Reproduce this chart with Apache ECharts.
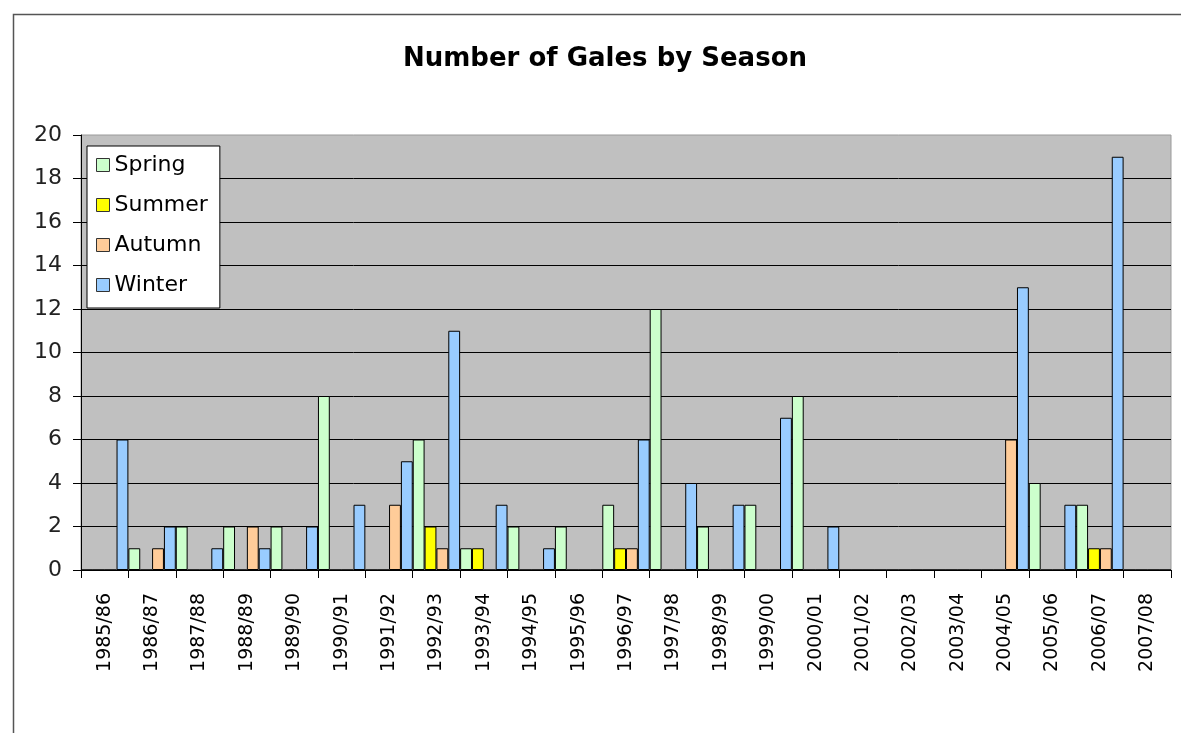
<!DOCTYPE html>
<html>
<head>
<meta charset="utf-8">
<script src="https://cdn.jsdelivr.net/npm/echarts@6/dist/echarts.min.js"></script>
<style>
html,body{margin:0;padding:0;background:#fff;}
#chart{width:1181px;height:733px;}
</style>
</head>
<body>
<div id="chart"></div>
<script>
const categories = ['1985/86','1986/87','1987/88','1988/89','1989/90','1990/91','1991/92','1992/93','1993/94','1994/95','1995/96','1996/97','1997/98','1998/99','1999/00','2000/01','2001/02','2002/03','2003/04','2004/05','2005/06','2006/07','2007/08'];
const spring = [0,1,2,2,2,8,0,6,1,2,2,3,12,2,3,8,0,0,0,0,4,3,0];
const summer = [0,0,0,0,0,0,0,2,1,0,0,1,0,0,0,0,0,0,0,0,0,1,0];
const autumn = [0,1,0,2,0,0,3,1,0,0,0,1,0,0,0,0,0,0,0,6,0,1,0];
const winter = [6,2,1,1,2,3,5,11,3,1,0,6,4,3,7,2,0,0,0,13,3,19,0];
const seriesNames = ['Spring','Summer','Autumn','Winter'];
const seriesColors = ['#CCFFCC','#FFFF00','#FFCC99','#99CCFF'];
const yTicks = {min:0, max:20, interval:2};

const FONT = 'DejaVu Sans';
const chart = echarts.init(document.getElementById('chart'), null, {renderer:'canvas'});

function mkSeries(name, data, color){
  return {
    name: name, type:'bar', data: data,
    barGap:'0%', barCategoryGap:'0%',
    itemStyle:{color: color, borderColor:'#000', borderWidth:1},
    emphasis:{disabled:true}
  };
}

chart.setOption({
  animation:false,
  backgroundColor:'#fff',
  title:{
    text:'Number of Gales by Season',
    left:600, top:41, textAlign:'center',
    textStyle:{fontFamily:FONT, fontWeight:'bold', fontSize:26, color:'#000'}
  },
  graphic:[{
    type:'rect', left:11, top:12, z:-1,
    shape:{width:1200, height:760},
    style:{fill:'none', stroke:'#555', lineWidth:1.5}
  }],
  legend:{
    orient:'vertical', left:87, top:146,
    backgroundColor:'#fff', borderColor:'#000', borderWidth:1,
    padding:[8,12,12,9], itemGap:18,
    itemWidth:13, itemHeight:13, icon:'rect',
    textStyle:{fontFamily:FONT, fontSize:22, color:'#000', lineHeight:22},
    itemStyle:{borderColor:'#333', borderWidth:1},
    data: seriesNames
  },
  grid:{
    left:81, right:10, top:135, bottom:163,
    show:true, backgroundColor:'#C0C0C0', borderColor:'#9a9a9a', borderWidth:1
  },
  xAxis:{
    type:'category', data:categories, boundaryGap:true,
    axisLine:{show:true, lineStyle:{color:'#000', width:1}},
    axisTick:{show:true, length:8, lineStyle:{color:'#000'}},
    axisLabel:{rotate:90, margin:23, interval:0, fontFamily:FONT, fontSize:19, color:'#000', padding:[0,0,10,0]}
  },
  yAxis:{
    type:'value', min:yTicks.min, max:yTicks.max, interval:yTicks.interval,
    axisLine:{show:true, lineStyle:{color:'#000', width:1}},
    axisTick:{show:true, length:8, lineStyle:{color:'#000'}},
    axisLabel:{margin:19, fontFamily:FONT, fontSize:22, color:'#222'},
    splitLine:{show:true, showMaxLine:false, lineStyle:{color:'#000', width:1}}
  },
  series:[
    mkSeries(seriesNames[0], spring, seriesColors[0]),
    mkSeries(seriesNames[1], summer, seriesColors[1]),
    mkSeries(seriesNames[2], autumn, seriesColors[2]),
    mkSeries(seriesNames[3], winter, seriesColors[3])
  ]
});
</script>
</body>
</html>
